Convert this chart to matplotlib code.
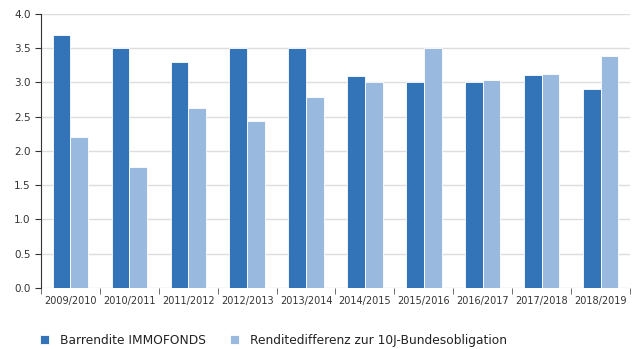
import matplotlib.pyplot as plt
import numpy as np

jahre = ["2009/2010", "2010/2011", "2011/2012", "2012/2013", "2013/2014",
         "2014/2015", "2015/2016", "2016/2017", "2017/2018", "2018/2019"]
barrendite = [3.7, 3.5, 3.3, 3.5, 3.5, 3.1, 3.0, 3.0, 3.11, 2.9]
differenz = [2.2, 1.76, 2.63, 2.44, 2.79, 3.0, 3.5, 3.03, 3.13, 3.39]

fig = plt.figure(figsize=(6.39, 3.49), dpi=100)
ax = fig.add_axes([0.064, 0.175, 0.922, 0.785])

x = np.arange(len(jahre))
w = 0.3
ax.bar(x - w/2, barrendite, w, color="#3374b9", edgecolor="white", linewidth=0.6,
       label="Barrendite IMMOFONDS", zorder=3)
ax.bar(x + w/2, differenz, w, color="#99b9de", edgecolor="white", linewidth=0.6,
       label="Renditedifferenz zur 10J-Bundesobligation", zorder=3)

ax.set_xlim(-0.5, len(jahre) - 0.5)
ax.set_ylim(0, 4.0)
ax.set_yticks(np.arange(0, 4.01, 0.5))
ax.set_yticklabels([f"{v:.1f}" for v in np.arange(0, 4.01, 0.5)], fontsize=7.5, color="#333333")
ax.set_xticks(x)
ax.set_xticklabels(jahre, fontsize=7, color="#333333")
ax.tick_params(axis="x", length=0, pad=6)
ax.set_xticks(np.arange(-0.5, len(jahre)), minor=True)
ax.tick_params(axis="x", which="minor", length=4, color="#555555")
ax.tick_params(axis="y", length=4, color="#333333")

ax.grid(axis="y", color="#dddddd", linewidth=1, zorder=0)
for s in ["top", "right", "bottom"]:
    ax.spines[s].set_visible(False)
ax.spines["left"].set_color("#333333")

fig.legend(loc="lower center", bbox_to_anchor=(0.428, -0.025), ncol=2, frameon=False,
           fontsize=8.8, handlelength=0.8, handleheight=0.8, handletextpad=0.9,
           columnspacing=1.9, labelcolor="#222222")

fig.savefig("out.png", dpi=100)
